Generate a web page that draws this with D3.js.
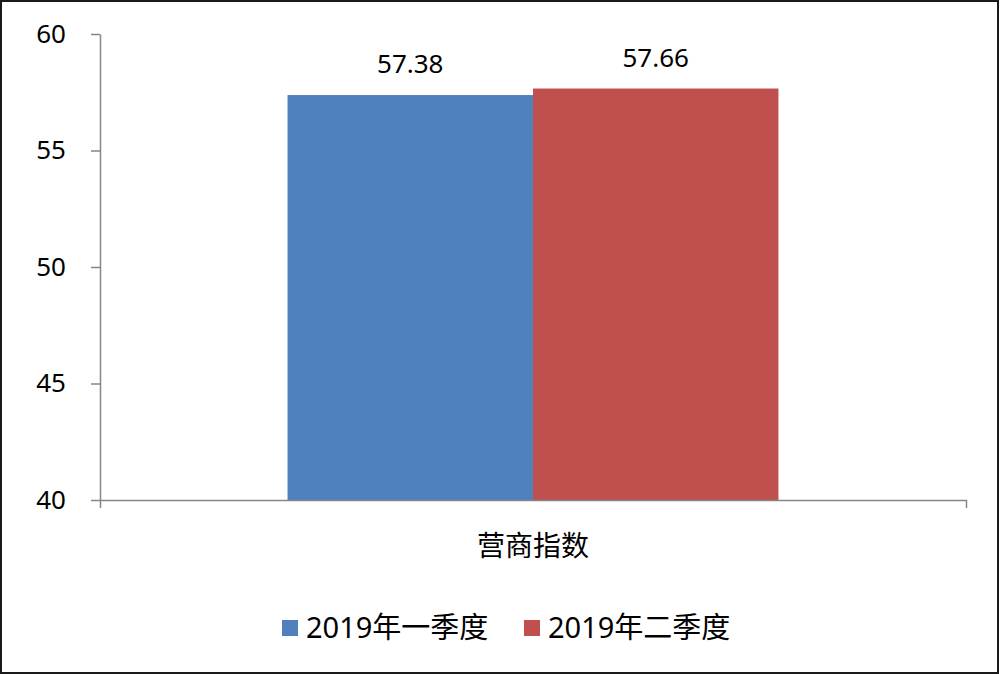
<!DOCTYPE html>
<html>
<head>
<meta charset="utf-8">
<script src="https://cdn.jsdelivr.net/npm/d3@7"></script>
<style>
  html, body { margin: 0; padding: 0; background: #fff; }
  text { font-family: "Noto Sans", "Noto Sans CJK SC", sans-serif; fill: #000; }
</style>
</head>
<body>
<div id="chart"></div>
<script>
// Data
const categories = ["营商指数"];
const seriesNames = ["2019年一季度", "2019年二季度"];
const seriesValues = [57.38, 57.66];
const seriesColors = ["#4F81BD", "#C0504D"];
const yTicks = [40, 45, 50, 55, 60];

const W = 1000, H = 674;
const plot = { left: 100, right: 966, top: 34, bottom: 500 };

const svg = d3.select("#chart")
  .append("svg")
  .attr("width", W)
  .attr("height", H);

// outer frame
svg.append("rect")
  .attr("x", 1).attr("y", 1)
  .attr("width", W - 3).attr("height", H - 2)
  .attr("fill", "#fff")
  .attr("stroke", "#1a1a1a")
  .attr("stroke-width", 2);

// Scales
const y = d3.scaleLinear().domain([40, 60]).range([plot.bottom, plot.top]);
const x0 = d3.scaleBand()
  .domain(categories)
  .range([plot.left, plot.right])
  .paddingInner(0)
  .paddingOuter(0.382);
const x1 = d3.scaleBand()
  .domain(seriesNames)
  .range([0, x0.bandwidth()]);

// Bars
const barData = seriesNames.map((s, i) => ({ cat: categories[0], name: s, value: seriesValues[i], color: seriesColors[i] }));

svg.append("g")
  .selectAll("rect")
  .data(barData)
  .enter()
  .append("rect")
  .attr("x", d => x0(d.cat) + x1(d.name))
  .attr("y", d => y(d.value))
  .attr("width", x1.bandwidth())
  .attr("height", d => y(40) - y(d.value))
  .attr("fill", d => d.color);

// Value labels
svg.append("g")
  .selectAll("text")
  .data(barData)
  .enter()
  .append("text")
  .attr("x", d => x0(d.cat) + x1(d.name) + x1.bandwidth() / 2)
  .attr("y", d => y(d.value) - 22)
  .attr("text-anchor", "middle")
  .style("font-size", "26px")
  .text(d => d.value.toFixed(2));

// Y axis
const yAxis = d3.axisLeft(y).tickValues(yTicks).tickSize(9).tickPadding(25).tickSizeOuter(0);
const yG = svg.append("g")
  .attr("transform", `translate(${plot.left},0)`)
  .call(yAxis);
yG.select(".domain").attr("stroke", "#868686").attr("stroke-width", 1.5);
yG.selectAll(".tick line").attr("stroke", "#868686").attr("stroke-width", 1.5);
yG.selectAll(".tick text")
  .style("font-size", "26px")
  .style("font-family", "'Noto Sans', sans-serif")
  .attr("fill", "#000");

// X axis
const xAxis = d3.axisBottom(x0).tickSize(0).tickPadding(36).tickSizeOuter(8);
const xG = svg.append("g")
  .attr("transform", `translate(0,${plot.bottom})`)
  .call(xAxis);
xG.select(".domain").attr("stroke", "#868686").attr("stroke-width", 1.5);
xG.selectAll(".tick text")
  .style("font-size", "28px")
  .style("font-family", "'Noto Sans CJK SC', sans-serif")
  .attr("fill", "#000");

// Legend
const legendX = [282, 524];
const legend = svg.append("g")
  .selectAll("g")
  .data(barData)
  .enter()
  .append("g")
  .attr("transform", (d, i) => `translate(${legendX[i]},620)`);
legend.append("rect")
  .attr("width", 16).attr("height", 16)
  .attr("fill", d => d.color);
legend.append("text")
  .attr("x", 24)
  .attr("y", 18)
  .style("font-size", "29px")
  .text(d => d.name);
</script>
</body>
</html>
